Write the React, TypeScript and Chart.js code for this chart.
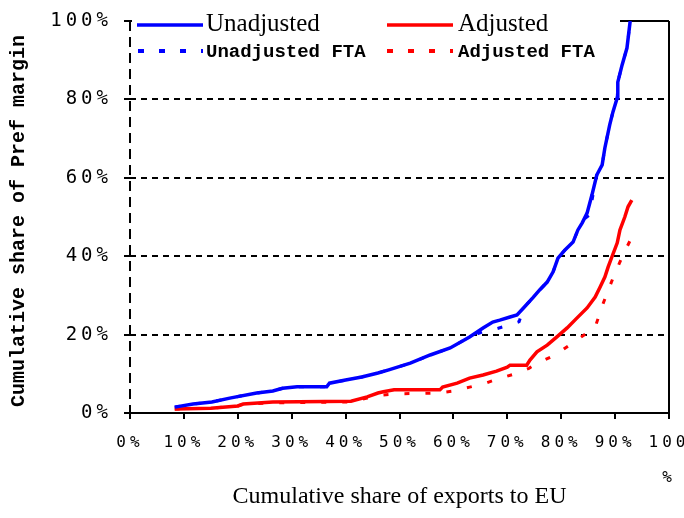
import React, { useEffect, useRef } from "react";
import { Chart, registerables } from "chart.js";

Chart.register(...registerables);

// Tick values (percent)
const xTickValues = [0, 10, 20, 30, 40, 50, 60, 70, 80, 90, 100];
const yTickValues = [0, 20, 40, 60, 80, 100];

// Unadjusted (solid blue)
const unadjX = [8.3, 11.7, 15.2, 18.5, 23.5, 26.5, 28.3, 31, 36.5, 37, 40, 43, 46, 48, 52, 55.7, 59.4, 63, 65.5, 67.3, 68.6, 70.5, 71.8, 73, 74.8, 76, 77.4, 78.5, 79.4, 80.7, 82.2, 83.1, 83.9, 84.8, 85.7, 86.6, 87.6, 88.1, 89, 89.6, 90.4, 90.5, 91.3, 92.2, 92.8];
const unadjY = [1.5, 2.3, 2.8, 3.8, 5.1, 5.6, 6.3, 6.7, 6.7, 7.6, 8.4, 9.2, 10.2, 11, 12.7, 14.8, 16.6, 19.4, 21.7, 23.2, 23.7, 24.5, 25, 26.8, 29.5, 31.4, 33.4, 36, 39.5, 41.6, 43.6, 46.7, 48.5, 51, 55.6, 60.7, 63.3, 67.6, 73.5, 76.8, 80.4, 84.4, 88.8, 93.1, 100];

// Adjusted (solid red)
const adjX = [8.3, 15, 20, 21, 26.5, 41, 44, 46, 47, 49, 57.5, 58, 60.7, 63, 65.5, 68, 70, 70.5, 73.6, 74.2, 75.5, 77.4, 79.2, 81.1, 82.9, 84.8, 86.3, 87.2, 88.1, 88.7, 89.4, 90.4, 90.9, 91.8, 92.4, 93.1];
const adjY = [1.0, 1.2, 1.8, 2.3, 2.8, 3.0, 4.1, 5.1, 5.4, 5.9, 5.9, 6.6, 7.6, 8.9, 9.7, 10.7, 11.7, 12.2, 12.2, 13.5, 15.6, 17.3, 19.4, 21.7, 24.2, 26.8, 29.6, 32.1, 34.7, 37.2, 39.8, 43.4, 46.7, 50, 52.6, 54.3];

// Unadjusted FTA (dotted blue)
const unadjFtaX = [8.3, 11.7, 15.2, 18.5, 23.5, 26.5, 28.3, 31, 36.5, 37, 40, 43, 46, 48, 52, 55.7, 59.4, 63, 66, 68, 70.5, 72.2, 73, 74.8, 76, 77.4, 78.5, 79.4, 80.7, 82.2, 83.1, 84.3, 85.2, 86.6, 87.6, 88.1, 89, 89.6, 90.4, 90.5, 91.3, 92.2, 92.8];
const unadjFtaY = [1.5, 2.3, 2.8, 3.8, 5.1, 5.6, 6.3, 6.7, 6.7, 7.6, 8.4, 9.2, 10.2, 11, 12.7, 14.8, 16.6, 19.4, 21.0, 21.5, 22.5, 23.3, 26.8, 29.5, 31.4, 33.4, 36, 39.5, 41.6, 43.6, 46.7, 49.5, 50.5, 60.7, 63.3, 67.6, 73.5, 76.8, 80.4, 84.4, 88.8, 93.1, 100];

// Adjusted FTA (dotted red)
const adjFtaX = [8.3, 15, 20, 21, 26.5, 41, 44, 47, 50, 57, 60, 63, 66, 68, 71, 74, 75.7, 78.9, 82.9, 86.3, 87.8, 89.6, 91.3, 93.1];
const adjFtaY = [1.0, 1.2, 1.8, 2.3, 2.6, 2.8, 3.8, 4.6, 4.9, 5.1, 5.6, 6.6, 7.6, 8.6, 9.8, 11.4, 12.8, 14.8, 18.6, 21.9, 28, 34.4, 39.8, 44.9];

const seriesNames = ["Unadjusted", "Adjusted", "Unadjusted FTA", "Adjusted FTA"];
const xTitle = "Cumulative share of exports to EU";
const yTitle = "Cumulative share of Pref margin";

const BLUE = "#0000ff";
const RED = "#ff0000";

const pts = (xs: number[], ys: number[]) => xs.map((x, i) => ({ x, y: ys[i] }));

export default function App() {
  const ref = useRef<HTMLCanvasElement>(null);

  useEffect(() => {
    const canvas = ref.current;
    if (!canvas) return;

    const overlay = {
      id: "overlay",
      beforeDraw(chart: any) {
        (chart.ctx as any).letterSpacing = "4px";
      },
      beforeDatasetsDraw(chart: any) {
        (chart.ctx as any).letterSpacing = "0px";
      },
      afterDraw(chart: any) {
        const ctx = chart.ctx as CanvasRenderingContext2D;
        const area = chart.chartArea;
        ctx.save();
        (ctx as any).letterSpacing = "0px";

        // left (y) axis line: dashed, along the left edge of the plot
        const x0 = Math.round(area.left);
        ctx.strokeStyle = "#000000";
        ctx.lineWidth = 2;
        ctx.setLineDash([10, 6]);
        ctx.beginPath();
        ctx.moveTo(x0, area.top);
        ctx.lineTo(x0, area.bottom);
        ctx.stroke();
        ctx.setLineDash([]);

        // legend box
        ctx.fillStyle = "#ffffff";
        ctx.fillRect(x0 + 2, 0, 488, 47);
        const line = (x1: number, x2: number, y: number, color: string, dash: number[], w: number) => {
          ctx.beginPath();
          ctx.setLineDash(dash);
          ctx.lineCap = "butt";
          ctx.strokeStyle = color;
          ctx.lineWidth = w;
          ctx.moveTo(x1, y);
          ctx.lineTo(x2, y);
          ctx.stroke();
        };
        line(137, 203, 25, BLUE, [], 3.5);
        line(387, 453, 25, RED, [], 3.5);
        line(138, 203, 51, BLUE, [6, 15], 4);
        line(387, 453, 51, RED, [6, 15], 4);
        ctx.setLineDash([]);
        ctx.fillStyle = "#000";
        ctx.textAlign = "left";
        ctx.textBaseline = "alphabetic";
        ctx.font = '25px "Liberation Serif"';
        ctx.fillText(seriesNames[0], 206, 31);
        ctx.fillText(seriesNames[1], 458, 31);
        ctx.font = 'bold 19px "Liberation Mono"';
        ctx.fillText(seriesNames[2], 206, 57);
        ctx.fillText(seriesNames[3], 458, 57);

        // x title
        ctx.font = '24px "Liberation Serif"';
        ctx.textAlign = "center";
        ctx.textBaseline = "middle";
        ctx.fillText(xTitle, (area.left + area.right) / 2, 497);

        // y title
        ctx.translate(19, (area.top + area.bottom) / 2 + 4);
        ctx.rotate(-Math.PI / 2);
        ctx.font = 'bold 20px "Liberation Mono"';
        ctx.fillText(yTitle, 0, 0);
        ctx.restore();
      },
    };

    const chart = new Chart(canvas, {
      type: "scatter",
      data: {
        datasets: [
          {
            label: seriesNames[0],
            data: pts(unadjX, unadjY),
            showLine: true,
            borderColor: BLUE,
            backgroundColor: BLUE,
            borderWidth: 3.5,
            pointRadius: 0,
            order: 0,
          },
          {
            label: seriesNames[1],
            data: pts(adjX, adjY),
            showLine: true,
            borderColor: RED,
            backgroundColor: RED,
            borderWidth: 3.5,
            pointRadius: 0,
            order: 0,
          },
          {
            label: seriesNames[2],
            data: pts(unadjFtaX, unadjFtaY),
            showLine: true,
            borderColor: BLUE,
            backgroundColor: BLUE,
            borderWidth: 3,
            borderDash: [5, 16],
            pointRadius: 0,
            order: 1,
          },
          {
            label: seriesNames[3],
            data: pts(adjFtaX, adjFtaY),
            showLine: true,
            borderColor: RED,
            backgroundColor: RED,
            borderWidth: 3,
            borderDash: [5, 16],
            pointRadius: 0,
            order: 1,
          },
        ],
      },
      options: {
        animation: false,
        responsive: false,
        maintainAspectRatio: false,
        layout: { padding: { left: 0, right: 15, top: 21, bottom: 0 } },
        plugins: {
          legend: { display: false },
          title: { display: false },
          tooltip: { enabled: false },
        },
        scales: {
          x: {
            type: "linear",
            min: 0,
            max: 100,
            afterBuildTicks: (scale: any) => {
              scale.ticks = xTickValues.map((v) => ({ value: v }));
            },
            afterFit: (scale: any) => {
              scale.height = 105;
              scale.paddingLeft = 0;
              scale.paddingRight = 0;
            },
            ticks: {
              maxRotation: 0,
              minRotation: 0,
              autoSkip: false,
              padding: 15,
              color: "#000",
              font: { family: '"DejaVu Sans Mono"', size: 16, lineHeight: 1.1 },
              callback: (v: any) => (Number(v) === 100 ? ["100", "", "%"] : v + "%"),
            },
            grid: {
              drawOnChartArea: true,
              color: (c: any) => (c.tick && c.tick.value === 100 ? "#000" : "rgba(0,0,0,0)"),
              lineWidth: 2,
              tickLength: 6,
              tickColor: "#000",
              tickWidth: 2,
            },
            border: {
              display: true,
              color: "#000",
              width: 2,
            },
          },
          y: {
            type: "linear",
            min: 0,
            max: 100,
            afterBuildTicks: (scale: any) => {
              scale.ticks = yTickValues.map((v) => ({ value: v }));
            },
            afterFit: (scale: any) => {
              scale.width = 130;
              scale.paddingTop = 0;
              scale.paddingBottom = 0;
            },
            ticks: {
              padding: 12,
              color: "#000",
              font: { family: '"DejaVu Sans Mono"', size: 19 },
              callback: (v: any) => v + "%",
            },
            grid: {
              color: "#000",
              lineWidth: 2,
              tickLength: 6,
              tickColor: "#000",
              tickWidth: 2,
            },
            border: {
              display: false,
              dash: (c: any) => (c.tick && c.tick.value > 0 && c.tick.value < 100 ? [6, 5] : []),
            },
          },
        },
      },
      plugins: [overlay],
    } as any);

    return () => chart.destroy();
  }, []);

  return (
    <div style={{ position: "fixed", left: 0, top: 0, width: 684, height: 518, background: "#fff" }}>
      <canvas ref={ref} width={684} height={518} style={{ width: 684, height: 518, display: "block" }} />
    </div>
  );
}
